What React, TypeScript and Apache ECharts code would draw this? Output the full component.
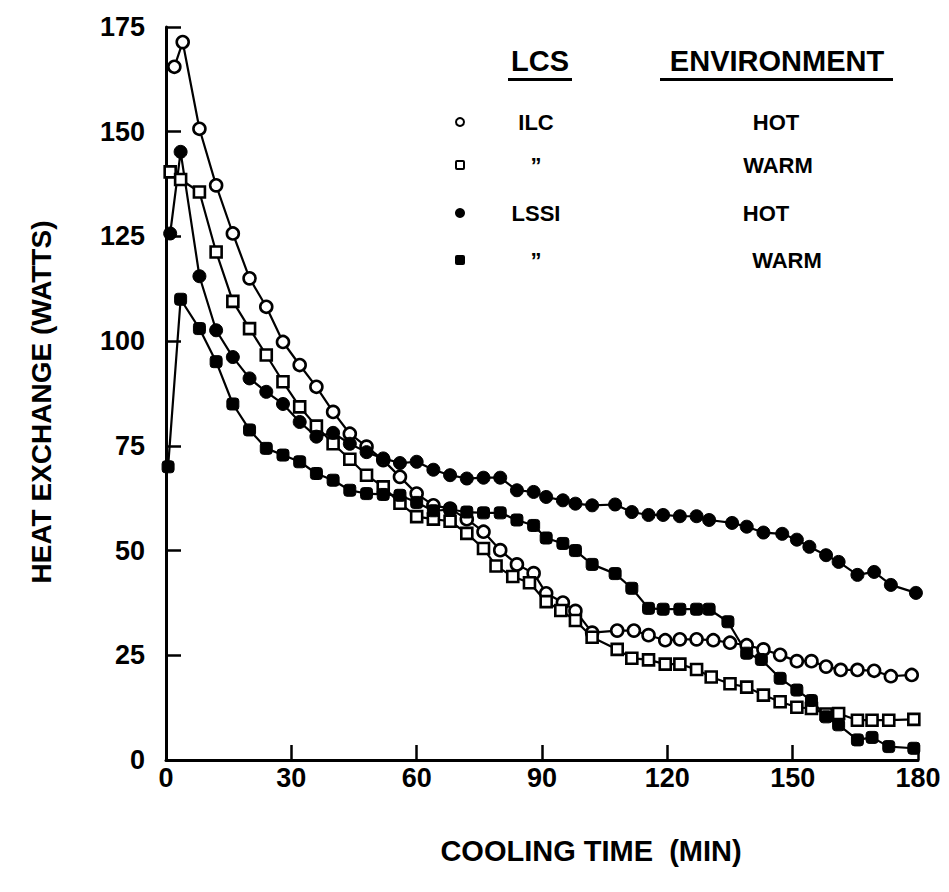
import React, { useEffect, useRef } from "react";
import * as echarts from "echarts";

// ---- Data (time in minutes, heat exchange in watts) ----
const ilcHotTime = [2, 4, 8, 12, 16, 20, 24, 28, 32, 36, 40, 44, 48, 52, 56, 60, 64, 68, 72, 76, 80, 84, 88, 91, 95, 98, 102, 108, 112, 115.5, 119.5, 123, 127, 131, 135, 139, 143, 147, 151, 154.5, 158, 161.5, 165.5, 169.5, 173.5, 178.5];
const ilcHotValue = [165.5, 171.4, 150.7, 137.2, 125.7, 115, 108.2, 99.8, 94.3, 89.1, 83.1, 77.9, 74.8, 71.6, 67.6, 63.6, 60.8, 60, 57.5, 54.5, 50.1, 46.7, 44.6, 39.8, 37.6, 35.6, 30.4, 30.9, 30.9, 29.8, 28.6, 28.8, 28.8, 28.6, 28, 27.4, 26.4, 25.1, 23.6, 23.6, 22.3, 21.5, 21.5, 21.3, 20, 20.3];

const ilcWarmTime = [1, 3.5, 8, 12, 16, 20, 24, 28, 32, 36, 40, 44, 48, 52, 56, 60, 64, 68, 72, 76, 79, 83, 87, 91, 94.5, 98, 102, 108, 111.5, 115.5, 119.5, 123, 127, 130.5, 135, 139, 143, 147, 151, 154.5, 158, 161, 165.5, 169, 173, 179];
const ilcWarmValue = [140.4, 138.6, 135.6, 121.3, 109.5, 103, 96.7, 90.3, 84.3, 79.7, 75.5, 71.8, 68, 65.2, 61.3, 58.1, 57.5, 57, 54.1, 50.5, 46.3, 43.8, 42.3, 37.8, 35.7, 33.3, 29.3, 26.4, 24.3, 23.9, 22.9, 22.9, 21.6, 19.8, 18.2, 17.4, 15.5, 13.9, 12.6, 12.3, 11, 11.1, 9.5, 9.5, 9.5, 9.7];

const lssiHotTime = [1, 3.5, 8, 12, 16, 20, 24, 28, 32, 36, 40, 44, 48, 52, 56, 60, 64, 68, 72, 76, 80, 84, 88, 91, 95, 98, 102, 107.5, 111.5, 115.5, 119, 123, 127, 130, 135.5, 139, 143, 147.5, 151, 154, 158, 161, 165.5, 169.5, 173.5, 179.5];
const lssiHotValue = [125.7, 145.2, 115.5, 102.6, 96.2, 91.1, 87.9, 85, 80.7, 77.2, 78.1, 75.5, 73.5, 72, 70.9, 71.2, 69.3, 68, 67.2, 67.4, 67.4, 64.4, 64, 62.8, 62, 61.2, 60.8, 61, 59.2, 58.5, 58.5, 58.2, 58.2, 57.3, 56.6, 55.7, 54.3, 54, 52.6, 50.9, 48.9, 47.3, 44.2, 44.9, 41.8, 39.9];

const lssiWarmTime = [0.5, 3.5, 8, 12, 16, 20, 24, 28, 32, 36, 40, 44, 48, 52, 56, 60, 64, 68, 72, 76, 80, 84, 88, 91, 95, 98, 102, 107.5, 111.5, 115.5, 119, 123, 127, 130, 134.5, 139, 142.5, 147, 151, 154.5, 158, 161, 165.5, 169, 173, 179];
const lssiWarmValue = [70, 110, 103, 95.1, 85, 78.8, 74.4, 72.8, 71.2, 68.4, 66.8, 64.4, 63.6, 63.4, 63.2, 61.5, 59.5, 59.8, 59.2, 59, 59, 57.3, 56, 53, 51.7, 50, 46.7, 44.5, 41, 36.2, 36, 36, 36, 36, 33, 25.5, 24, 19.5, 16.7, 14.2, 10.3, 8.4, 4.8, 5.4, 3.2, 2.8];

const xTicks = [0, 30, 60, 90, 120, 150, 180];
const yTicks = [0, 25, 50, 75, 100, 125, 150, 175];

const xTitle = "COOLING TIME  (MIN)";
const yTitle = "HEAT EXCHANGE (WATTS)";
const legendHeaders = ["LCS", "ENVIRONMENT"];
const legendLcs = ["ILC", "\u201D", "LSSI", "\u201D"];
const legendEnv = ["HOT", "WARM", "HOT", "WARM"];

const FONT = '"Liberation Sans", Arial, Helvetica, sans-serif';

function zip(t: number[], v: number[]) {
  return t.map((x, i) => [x, v[i]]);
}

export default function App() {
  const ref = useRef<HTMLDivElement>(null);

  useEffect(() => {
    if (!ref.current) return;
    const chart = echarts.init(ref.current, null, { renderer: "svg" });

    const openStyle = { color: "#fff", borderColor: "#000", borderWidth: 2.6 };
    const fillStyle = { color: "#000", borderColor: "#000", borderWidth: 1 };
    const line = { color: "#000", width: 2.2 };

    const mkSeries = (name: string, data: number[][], symbol: string, size: number, item: any) => ({
      name,
      type: "line",
      data,
      symbol,
      symbolSize: size,
      showAllSymbol: true,
      lineStyle: line,
      itemStyle: item,
      z: 3,
    });

    const rowY = [122, 165, 213, 260];
    const g: any[] = [];
    const txt = (text: string, x: number, y: number, size: number, rotation = 0) => ({
      type: "text",
      x,
      y,
      rotation,
      style: {
        text,
        font: `bold ${size}px ${FONT}`,
        fill: "#000",
        textAlign: "center",
        textVerticalAlign: "middle",
      },
    });
    // headers
    g.push(txt(legendHeaders[0], 540, 61, 29));
    g.push(txt(legendHeaders[1], 777, 61, 29));
    g.push({ type: "rect", shape: { x: 508, y: 78, width: 64, height: 3 }, style: { fill: "#000" } });
    g.push({ type: "rect", shape: { x: 660, y: 78, width: 233, height: 3 }, style: { fill: "#000" } });
    const envX = [776, 778, 766, 787];
    rowY.forEach((y, i) => {
      g.push(txt(legendLcs[i], 536, y, 22));
      g.push(txt(legendEnv[i], envX[i], y, 22));
    });
    g.push({ type: "circle", shape: { cx: 460, cy: rowY[0], r: 4 }, style: { fill: "#fff", stroke: "#000", lineWidth: 2 } });
    g.push({ type: "rect", shape: { x: 456, y: rowY[1] - 4, width: 8, height: 8, r: 1 }, style: { fill: "#fff", stroke: "#000", lineWidth: 2 } });
    g.push({ type: "circle", shape: { cx: 460, cy: rowY[2], r: 5 }, style: { fill: "#000" } });
    g.push({ type: "rect", shape: { x: 455, y: rowY[3] - 5, width: 10, height: 10, r: 2 }, style: { fill: "#000" } });
    // axis titles
    g.push(txt(xTitle, 591, 851, 29));
    g.push(txt(yTitle, 41, 402, 28, Math.PI / 2));

    chart.setOption({
      animation: false,
      backgroundColor: "#fff",
      grid: { left: 166, top: 27, right: 31, bottom: 132, containLabel: false },
      xAxis: {
        type: "value",
        min: 0,
        max: 180,
        interval: 30,
        axisLine: { show: true, lineStyle: { color: "#000", width: 3 } },
        axisTick: { show: true, inside: true, length: 15, lineStyle: { color: "#000", width: 2.5 } },
        axisLabel: {
          margin: 4,
          fontFamily: FONT,
          fontWeight: "bold",
          fontSize: 27,
          color: "#000",
          formatter: (v: number) => (xTicks.includes(v) ? String(v) : ""),
        },
        splitLine: { show: false },
      },
      yAxis: {
        type: "value",
        min: 0,
        max: 175,
        interval: 25,
        axisLine: { show: true, lineStyle: { color: "#000", width: 3 } },
        axisTick: { show: true, inside: true, length: 15, lineStyle: { color: "#000", width: 2.5 } },
        axisLabel: {
          margin: 21,
          fontFamily: FONT,
          fontWeight: "bold",
          fontSize: 27,
          color: "#000",
          formatter: (v: number) => (yTicks.includes(v) ? String(v) : ""),
        },
        splitLine: { show: false },
      },
      series: [
        mkSeries("ILC HOT", zip(ilcHotTime, ilcHotValue), "circle", 12, openStyle),
        mkSeries("ILC WARM", zip(ilcWarmTime, ilcWarmValue), "rect", 11, openStyle),
        mkSeries("LSSI HOT", zip(lssiHotTime, lssiHotValue), "circle", 13, fillStyle),
        mkSeries("LSSI WARM", zip(lssiWarmTime, lssiWarmValue), "roundRect", 12, fillStyle),
      ],
      graphic: g,
    });

    return () => chart.dispose();
  }, []);

  return (
    <div
      ref={ref}
      style={{ position: "absolute", left: 0, top: 0, width: 949, height: 892, background: "#fff" }}
    />
  );
}
